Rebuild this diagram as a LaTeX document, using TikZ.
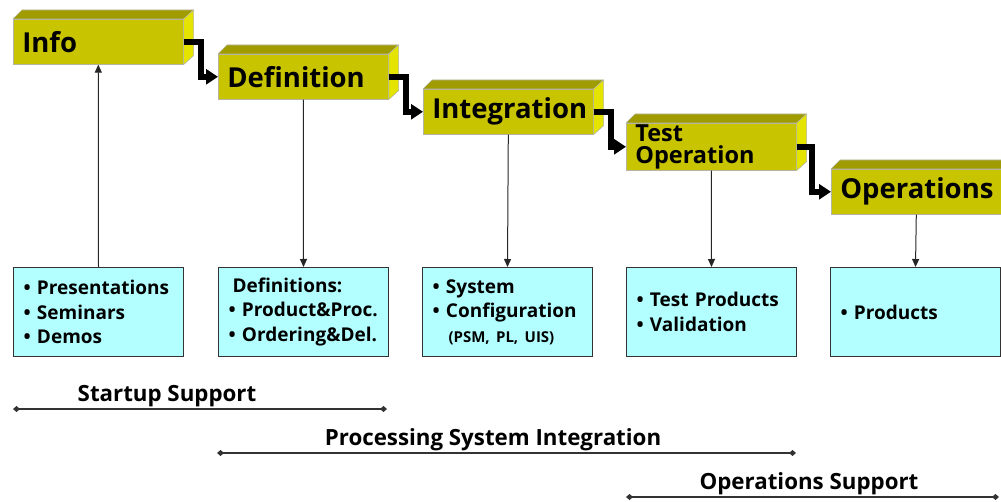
\documentclass[tikz,border=0pt]{standalone}
\usepackage{fontspec}
\setmainfont{Open Sans}
\usetikzlibrary{arrows.meta,calc}
\definecolor{phasefront}{HTML}{C8C400}
\definecolor{phasetop}{HTML}{A09C00}
\definecolor{phaseside}{HTML}{E4E400}
\definecolor{phaseedge}{HTML}{B4B4A0}
\definecolor{taskfill}{HTML}{B3FFFF}
\tikzset{
  phase/.style={draw=phaseedge, line width=0.6pt, fill=phasefront, anchor=north west,
    minimum width=170pt, minimum height=45pt, text width=152pt, inner xsep=9pt, inner ysep=0pt,
    align=left, font=\fontsize{27.5}{24}\selectfont\bfseries},
  face/.style={draw=phaseedge, line width=0.6pt, line join=round},
  flow/.style={line width=6pt, line join=miter, -{Triangle[length=12pt,width=15pt]}},
  link/.style={line width=1pt, draw=black!85, -{Triangle[length=8pt,width=7pt]}},
  task/.style={draw=black!80, line width=1pt, fill=taskfill, anchor=north west,
    minimum width=170pt, minimum height=89pt, text width=150pt, inner xsep=10pt,
    align=left, font=\fontsize{19}{24.5}\selectfont\bfseries},
  span/.style={line width=1.2pt, draw=black!80,
    {Diamond[length=7pt,width=6pt]}-{Diamond[length=7pt,width=6pt]}},
  spanlabel/.style={font=\fontsize{22.3}{26}\selectfont\bfseries, inner sep=0pt}
}
\begin{document}
\begin{tikzpicture}[x=1pt,y=-1pt]
\useasboundingbox (0,0) rectangle (1001,502);

% phase blocks (front faces)
\node[phase] (info)  at (13,19)  {Info};
\node[phase] (def)   at (218,54) {Definition};
\node[phase] (integ) at (423,89) {Integration};
\node[phase, minimum height=47pt, font=\fontsize{23.5}{22.5}\selectfont\bfseries] (test) at (626,123) {Test\\Operation};
\node[phase] (ops)   at (831,169) {Operations};

% top and right faces of each block
\foreach \n in {info,def,integ,test,ops}{
  \filldraw[face, fill=phasetop] (\n.north west) -- ++(9,-9) -- ($(\n.north east)+(10,-9)$) -- (\n.north east) -- cycle;
  \filldraw[face, fill=phaseside] (\n.north east) -- ++(10,-9) -- ($(\n.south east)+(10,-9)$) -- (\n.south east) -- cycle;
}

% stepped flow between phases
\draw[flow] (info.east)  -- ++(17,0) |- (def.west);
\draw[flow] (def.east)   -- ++(17,0) |- (integ.west);
\draw[flow] (integ.east) -- ++(17,0) |- (test.west);
\draw[flow] (test.east)  -- ++(15,0) |- (ops.west);

% task boxes
\node[task] (t1) at (13,267)  {\textbullet\ Presentations\\\textbullet\ Seminars\\\textbullet\ Demos};
\node[task] (t2) at (218,267) {\hspace*{4pt}Definitions:\\\textbullet\ Product\&Proc.\\\textbullet\ Ordering\&Del.};
\node[task] (t3) at (422,267) {\textbullet\ System\\\textbullet\ Configuration\\\hspace*{16pt}{\fontsize{15}{20}\selectfont(PSM, PL, UIS)}};
\node[task] (t4) at (626,267) {\textbullet\ Test Products\\\textbullet\ Validation};
\node[task] (t5) at (830,267) {\textbullet\ Products};

% links between phases and tasks
\draw[link] (t1.north) -- (info.south);
\draw[link] (def.south)   -- (t2.north);
\draw[link] (integ.south) -- (t3.north);
\draw[link] (test.south)  -- (t4.north);
\draw[link] (ops.south)   -- (t5.north);

% support periods
\coordinate (s1a) at (13,409);  \coordinate (s1b) at (387,409);
\coordinate (s2a) at (217,453); \coordinate (s2b) at (796,453);
\coordinate (s3a) at (626,497); \coordinate (s3b) at (999,497);
\draw[span] (s1a) -- (s1b);
\draw[span] (s2a) -- (s2b);
\draw[span] (s3a) -- (s3b);
\node[spanlabel] (l1) at (167,396) {Startup Support};
\node[spanlabel] (l2) at (493,440) {Processing System Integration};
\node[spanlabel] (l3) at (809,484) {Operations Support};
\end{tikzpicture}
\end{document}
